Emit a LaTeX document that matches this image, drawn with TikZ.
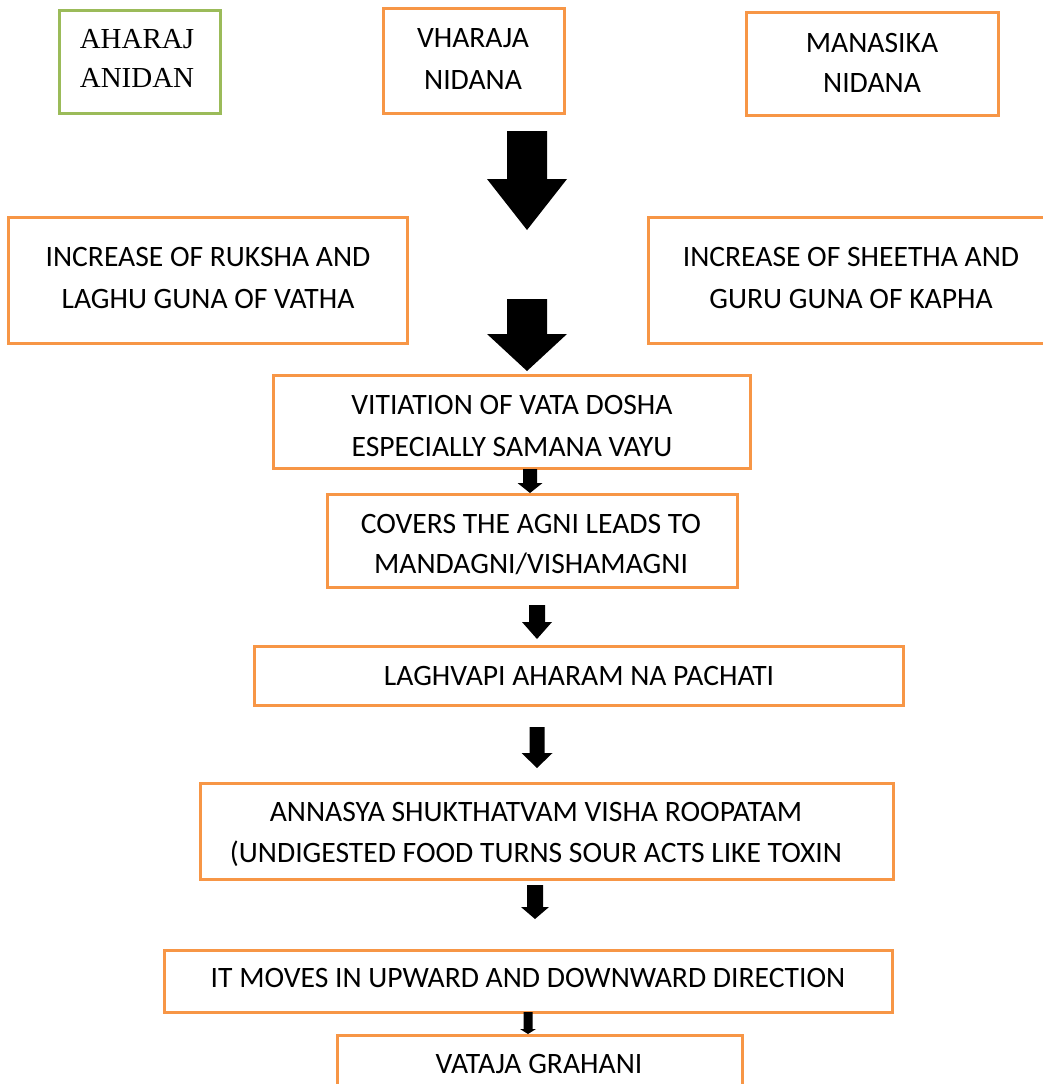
\documentclass[tikz,border=0pt]{standalone}
\usepackage{fontspec}
\setmainfont{Carlito}
\newfontfamily\timesf{Liberation Serif}
\definecolor{boxorange}{HTML}{F79646}
\definecolor{boxgreen}{HTML}{9BBB59}
\newcommand\twol[2]{\begin{tabular}[t]{@{}c@{}}#1\\#2\end{tabular}}
% name, style, x1, y1, x2, y2
\newcommand\flowrect[6]{\node[#2, minimum width={#5pt-#3pt}, minimum height={#6pt-#4pt}] (#1) at ({(#3+#5)/2},{(#4+#6)/2}) {};}
% cx, top, headstart, tip, shaft width, head width
\newcommand\blockarrow[6]{\fill[arrowfill] ({#1-#5/2},#2) -- ({#1+#5/2},#2) -- ({#1+#5/2},#3) -- ({#1+#6/2},#3) -- (#1,#4) -- ({#1-#6/2},#3) -- ({#1-#5/2},#3) -- cycle;}
\begin{document}
\begin{tikzpicture}[x=1pt,y=-1pt,
  obox/.style={draw=boxorange, line width=3pt, inner sep=0pt, outer sep=0pt},
  gbox/.style={draw=boxgreen, line width=3pt, inner sep=0pt, outer sep=0pt},
  txt/.style={anchor=base, inner sep=0pt, font=\fontsize{29.6}{42}\selectfont},
  arrowfill/.style={fill=black}]
\useasboundingbox (0,0) rectangle (1043,1084);
\fill[white] (0,0) rectangle (1043,1084);
\clip (0,0) rectangle (1043,1084);
% boxes
\flowrect{A}{gbox}{59}{10}{220}{113}
\flowrect{B}{obox}{383}{8}{564}{113}
\flowrect{C}{obox}{746}{12}{998}{115}
\flowrect{D}{obox}{8}{217}{407}{343}
\flowrect{E}{obox}{648}{217}{1054}{343}
\flowrect{F}{obox}{273}{375}{750}{468}
\flowrect{G}{obox}{327}{494}{737}{587}
\flowrect{H}{obox}{254}{646}{903}{705}
\flowrect{I}{obox}{200}{783}{893}{879}
\flowrect{J}{obox}{164}{950}{892}{1012}
\flowrect{K}{obox}{337}{1035}{742}{1110}
% texts
\node[txt, font=\timesf\fontsize{29}{39}\selectfont] (tA) at (137,48) {\twol{AHARAJ}{ANIDAN}};
\node[txt] (tB) at (473,47) {\twol{VHARAJA}{NIDANA}};
\node[txt, font=\fontsize{29.6}{40}\selectfont] (tC) at (872,52) {\twol{MANASIKA}{NIDANA}};
\node[txt] (tD) at (208,266) {\twol{INCREASE OF RUKSHA AND}{LAGHU GUNA OF VATHA}};
\node[txt] (tE) at (851,266) {\twol{INCREASE OF SHEETHA AND}{GURU GUNA OF KAPHA}};
\node[txt] (tF) at (512,414) {\twol{VITIATION OF VATA DOSHA}{ESPECIALLY SAMANA VAYU}};
\node[txt, font=\fontsize{29.6}{40}\selectfont] (tG) at (531,533) {\twol{COVERS THE AGNI LEADS TO}{MANDAGNI/VISHAMAGNI}};
\node[txt] (tH) at (579,685) {LAGHVAPI AHARAM NA PACHATI};
\node[txt, font=\fontsize{29.6}{41}\selectfont] (tI) at (536,821) {\twol{ANNASYA SHUKTHATVAM VISHA ROOPATAM}{(UNDIGESTED FOOD TURNS SOUR ACTS LIKE TOXIN}};
\node[txt] (tJ) at (528,987) {IT MOVES IN UPWARD AND DOWNWARD DIRECTION};
\node[txt] (tK) at (539,1073) {VATAJA GRAHANI};
% block arrows
\blockarrow{527}{131}{179}{230}{40}{80}
\blockarrow{527}{299}{334}{371}{40}{80}
\blockarrow{530}{469}{483}{493}{14}{25}
\blockarrow{537}{605}{622}{639}{16}{30}
\blockarrow{537}{727}{753}{768}{15}{31}
\blockarrow{535}{885}{907}{919}{16}{28}
\blockarrow{528}{1012}{1029}{1034}{9}{16}
\end{tikzpicture}
\end{document}
